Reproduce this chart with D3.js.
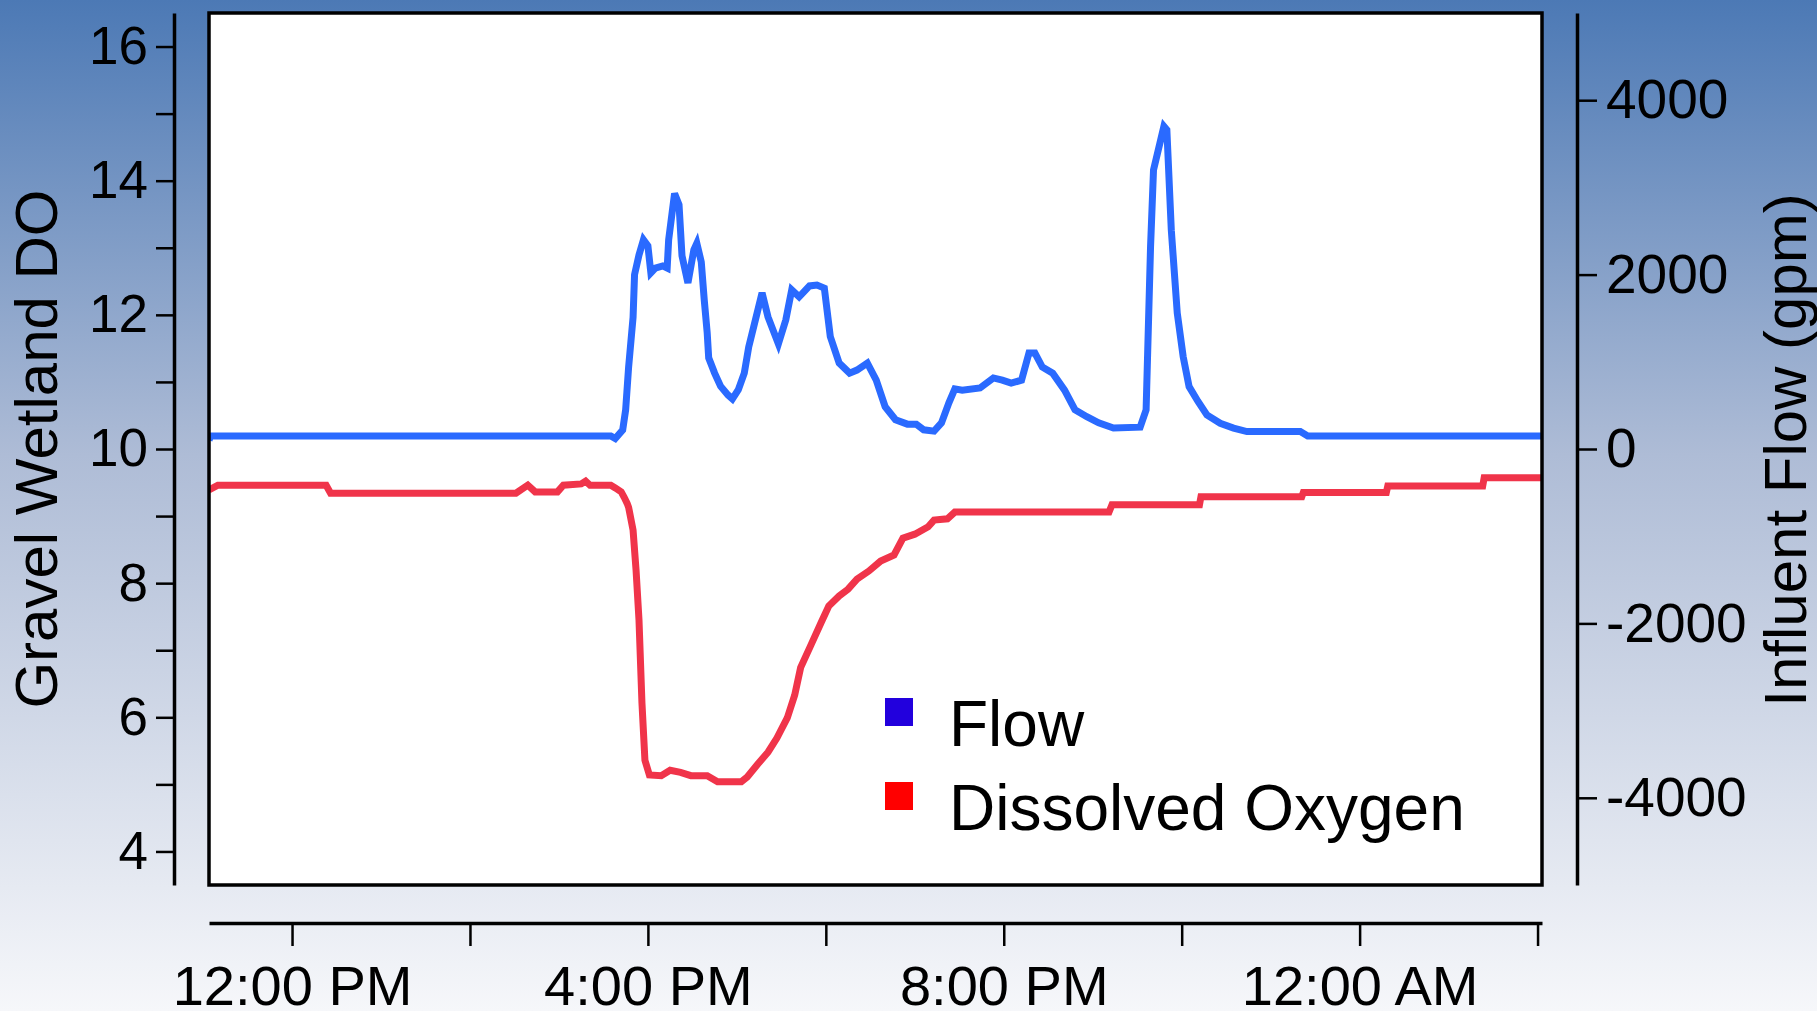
<!DOCTYPE html>
<html>
<head>
<meta charset="utf-8">
<script src="https://cdn.jsdelivr.net/npm/d3@7"></script>
<style>
  body { margin: 0; padding: 0; overflow: hidden; }
  svg { display: block; font-family: "Liberation Sans", Arial, sans-serif; }
</style>
</head>
<body>
<svg width="1817" height="1011"></svg>
<script>
// influent flow (gpm)
var flowTimes = ["11:04","11:05","15:35","15:38","15:43","15:45","15:47","15:50","15:51","15:54",
  "15:57","16:00","16:02","16:05","16:10","16:13","16:14","16:17","16:18","16:21",
  "16:23","16:27","16:31","16:33","16:36","16:38","16:40","16:41","16:45","16:49",
  "16:54","16:57","17:01","17:05","17:08","17:17","17:21","17:28","17:33","17:37",
  "17:42","17:49","17:54","17:59","18:03","18:09","18:16","18:21","18:28","18:34",
  "18:40","18:47","18:55","19:01","19:06","19:13","19:18","19:23","19:27","19:32",
  "19:44","19:53","19:59","20:05","20:12","20:17","20:21","20:26","20:33","20:41",
  "20:48","20:56","21:04","21:14","21:32","21:36","21:39","21:41","21:48","21:50",
  "21:53","21:57","22:01","22:05","22:11","22:17","22:26","22:35","22:44","23:20",
  "23:25","02:03"];
var flowValues = [100,150,150,120,218,450,940,1510,2000,2225,
  2400,2330,2020,2075,2100,2075,2400,2800,2930,2800,
  2215,1905,2285,2360,2145,1710,1330,1045,870,720,
  620,575,680,870,1170,1790,1515,1205,1480,1825,
  1745,1870,1880,1845,1290,985,870,905,985,790,
  485,335,285,285,220,205,300,530,690,675,
  700,815,790,755,790,1100,1100,940,870,675,
  450,370,300,240,250,450,2320,3200,3700,3660,
  2510,1560,1060,715,545,390,295,240,200,200,
  150,150];

// dissolved oxygen (mg/L)
var doTimes = ["11:04","11:10","12:23","12:26","14:31","14:39","14:44","14:59","15:03","15:15",
  "15:18","15:21","15:35","15:38","15:42","15:44","15:46","15:47","15:50","15:52",
  "15:54","15:56","15:58","16:01","16:09","16:15","16:22","16:29","16:40","16:47",
  "17:03","17:07","17:14","17:21","17:27","17:34","17:39","17:43","17:50","17:57",
  "18:02","18:09","18:15","18:21","18:29","18:37","18:46","18:52","19:00","19:09",
  "19:13","19:22","19:27","21:11","21:13","22:12","22:13","23:21","23:22","00:18",
  "00:19","01:23","01:24","02:03"];
var doValues = [9.39,9.46,9.46,9.34,9.34,9.46,9.36,9.36,9.46,9.48,
  9.52,9.46,9.46,9.42,9.36,9.28,9.19,9.13,8.79,8.20,
  7.45,6.21,5.36,5.14,5.13,5.21,5.18,5.13,5.13,5.04,
  5.04,5.11,5.30,5.48,5.69,5.99,6.33,6.74,7.08,7.42,
  7.66,7.81,7.91,8.06,8.18,8.33,8.42,8.67,8.73,8.84,
  8.94,8.96,9.06,9.06,9.17,9.17,9.29,9.29,9.35,9.35,
  9.45,9.45,9.57,9.57];

var timeStart = "11:04", timeEnd = "02:03";
var xTickTimes = ["12:00","14:00","16:00","18:00","20:00","22:00","00:00","02:00"];
var xLabelTimes = ["12:00","16:00","20:00","00:00"];
var leftTicks = [4,5,6,7,8,9,10,11,12,13,14,15,16];
var rightTicks = [-4000,-2000,0,2000,4000];

var legendNames = ["Flow", "Dissolved Oxygen"];
var legendColors = ["#2200dd", "#ff0000"];

// times before 11 am belong to the next day
function toDate(s) {
    var p = s.split(':');
    var h = +p[0];
    if (h < 11) h += 24;
    return new Date(2000, 0, 1, h, +p[1]);
}

var svg = d3.select('svg');

var pLeft = 209, pRight = 1542, pTop = 13, pBottom = 885;

var grad = svg.append('defs').append('linearGradient')
    .attr('id', 'bg')
    .attr('x1', 0).attr('y1', 0).attr('x2', 0).attr('y2', 1);
grad.append('stop').attr('offset', '0%').attr('stop-color', '#4c79b5');
grad.append('stop').attr('offset', '45%').attr('stop-color', '#aebcd6');
grad.append('stop').attr('offset', '100%').attr('stop-color', '#f6f7fa');

svg.append('rect')
    .attr('width', 1817).attr('height', 1011)
    .attr('fill', 'url(#bg)');

svg.select('defs').append('clipPath').attr('id', 'clip')
    .append('rect')
    .attr('x', pLeft).attr('y', pTop)
    .attr('width', pRight - pLeft).attr('height', pBottom - pTop);

var x = d3.scaleTime()
    .domain([toDate(timeStart), toDate(timeEnd)])
    .range([pLeft, pRight]);

var yLeft = d3.scaleLinear().domain([3.5, 16.5]).range([pBottom, pTop]);
var yRight = d3.scaleLinear().domain([-5000, 5000]).range([pBottom, pTop]);

// plot box
svg.append('rect')
    .attr('x', pLeft).attr('y', pTop)
    .attr('width', pRight - pLeft).attr('height', pBottom - pTop)
    .attr('fill', 'white');

var flowData = d3.zip(flowTimes, flowValues);
var doData = d3.zip(doTimes, doValues);

var flowLine = d3.line()
    .x(function(d){ return x(toDate(d[0])); })
    .y(function(d){ return yRight(d[1]); });

var doLine = d3.line()
    .x(function(d){ return x(toDate(d[0])); })
    .y(function(d){ return yLeft(d[1]); });

var g = svg.append('g').attr('clip-path', 'url(#clip)');

g.append('path')
    .datum(doData)
    .attr('d', doLine)
    .attr('fill', 'none')
    .attr('stroke', '#f0344a')
    .attr('stroke-width', 7);

g.append('path')
    .datum(flowData)
    .attr('d', flowLine)
    .attr('fill', 'none')
    .attr('stroke', '#2a6aff')
    .attr('stroke-width', 7);

svg.append('rect')
    .attr('x', pLeft).attr('y', pTop)
    .attr('width', pRight - pLeft).attr('height', pBottom - pTop)
    .attr('fill', 'none')
    .attr('stroke', 'black')
    .attr('stroke-width', 3.5);

// left axis
var axL = svg.append('g')
    .attr('transform', 'translate(174,0)')
    .call(d3.axisLeft(yLeft)
        .tickValues(leftTicks)
        .tickFormat(function(d){ return d % 2 == 0 ? d : ''; })
        .tickSize(18).tickSizeOuter(0).tickPadding(8));

// right axis
var axR = svg.append('g')
    .attr('transform', 'translate(1577,0)')
    .call(d3.axisRight(yRight)
        .tickValues(rightTicks)
        .tickFormat(function(d){ return String(d); })
        .tickSize(20).tickSizeOuter(0).tickPadding(9));

// bottom axis
var fmt = d3.timeFormat('%-I:%M %p');
var axB = svg.append('g')
    .attr('transform', 'translate(0,923)')
    .call(d3.axisBottom(x)
        .tickValues(xTickTimes.map(toDate))
        .tickFormat(function(d){
            return xLabelTimes.map(toDate).some(function(t){ return +t == +d; }) ? fmt(d) : '';
        })
        .tickSize(23).tickSizeOuter(0).tickPadding(19));

[axL, axR, axB].forEach(function(a){
    a.select('.domain').attr('stroke', 'black').attr('stroke-width', 3.5);
    a.selectAll('.tick line').attr('stroke', 'black').attr('stroke-width', 2.5);
    a.selectAll('.tick text').attr('fill', 'black').attr('font-family', '"Liberation Sans", Arial, sans-serif');
});
axL.selectAll('.tick text').attr('font-size', 53);
axR.selectAll('.tick text').attr('font-size', 55);
axB.selectAll('.tick text').attr('font-size', 56);

// axis titles
svg.append('text')
    .attr('transform', 'translate(57,449) rotate(-90)')
    .attr('text-anchor', 'middle')
    .attr('font-size', 60)
    .text('Gravel Wetland DO');

svg.append('text')
    .attr('transform', 'translate(1806,450) rotate(-90)')
    .attr('text-anchor', 'middle')
    .attr('font-size', 60)
    .text('Influent Flow (gpm)');

// legend
var leg = svg.selectAll('.leg')
    .data(legendNames)
    .enter()
    .append('g')
    .attr('class', 'leg')
    .attr('transform', function(d, i){ return 'translate(885,' + (698 + i * 84) + ')'; });

leg.append('rect')
    .attr('width', 28).attr('height', 28)
    .attr('fill', function(d, i){ return legendColors[i]; });

leg.append('text')
    .attr('x', 64).attr('y', 48)
    .attr('font-size', 64)
    .text(function(d){ return d; });
</script>
</body>
</html>
